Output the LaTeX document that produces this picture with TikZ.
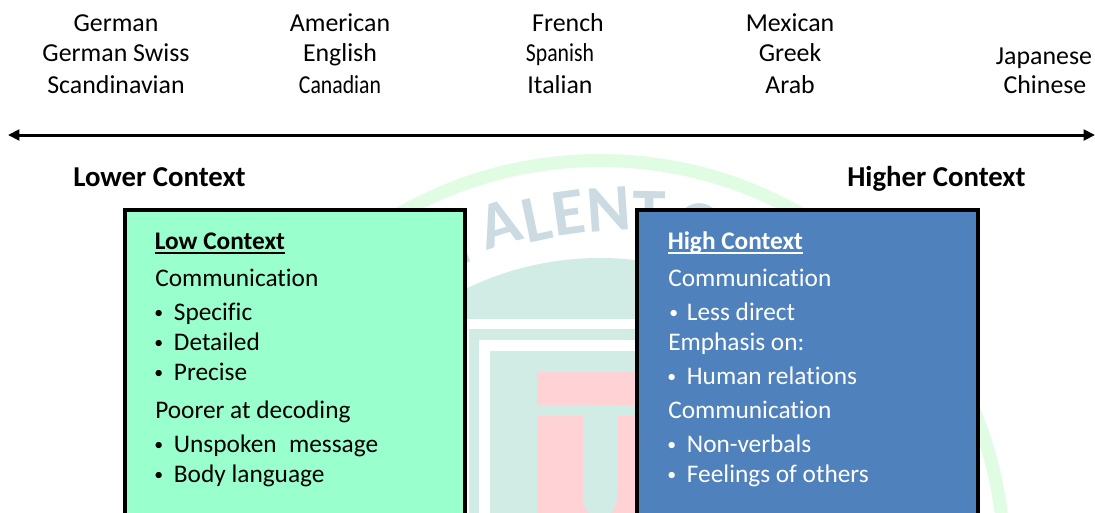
\documentclass[tikz,border=0pt]{standalone}
\usepackage{fontspec}
\setmainfont[Ligatures=NoCommon]{Carlito}
\usetikzlibrary{arrows.meta}
\definecolor{ringc}{HTML}{E0FCE3}
\definecolor{discc}{HTML}{D1EBE5}
\definecolor{redc}{HTML}{FFD3D5}
\definecolor{letc}{HTML}{CCDAE2}
\definecolor{greenbox}{HTML}{99FFCC}
\definecolor{bluebox}{HTML}{4F81BD}
\newcommand{\bul}[2][0pt]{\makebox[14pt][l]{\hspace{-0.7pt}\hspace{#1}\raisebox{1.4pt}{\scalebox{0.7}{•}}}#2}
\newcommand{\narrowed}[1]{\scalebox{0.84}[1]{#1}}
\tikzset{
  toptext/.style={anchor=base,inner sep=0pt,font=\fontsize{19.4}{19.4}\selectfont,text=black},
  sidehead/.style={anchor=base west,inner sep=0pt,font=\fontsize{21.6}{21.6}\selectfont\bfseries,text=black},
  headtext/.style={anchor=base west,inner sep=0pt,font=\fontsize{19}{19}\selectfont\bfseries,text=black},
  ltext/.style={anchor=base west,inner sep=0pt,font=\fontsize{19}{19}\selectfont,text=black},
  rtext/.style={anchor=base west,inner sep=0pt,font=\fontsize{19}{19}\selectfont,text=white},
  panel/.style={draw=black,line width=3pt},
  wm/.style={inner sep=0pt,text=letc,font=\fontsize{50}{50}\selectfont\bfseries},
}
\begin{document}
\begin{tikzpicture}[x=0.75pt,y=-0.75pt]
\clip (0,0) rectangle (1095,512);
\fill[white] (0,0) rectangle (1095,512);
% watermark
\fill[ringc,even odd rule] (600,565) circle (411) (600,565) circle (398);
\fill[discc] (600,565) circle (307);
\fill[white] (400,319) rectangle (800,600);
\fill[discc] (469,329) rectangle (731,600);
\fill[white] (479,340) rectangle (721,600);
\fill[discc] (490,351) rectangle (710,600);
\fill[redc] (537,372) rectangle (663,405);
\fill[redc] (537,416) rectangle (663,600);
\fill[discc] (583,416) -- (583,498) .. controls (585,525) and (615,525) .. (617,498) -- (617,416) -- cycle;
\node[wm,rotate=22] (w1) at (459,243) {T};
\node[wm,rotate=17] (w2) at (499,224) {A};
\node[wm,rotate=12] (w3) at (537,219) {L};
\node[wm,rotate=8] (w4) at (569,213) {E};
\node[wm,rotate=4] (w5) at (609,209) {N};
\node[wm,rotate=-1] (w6) at (649,213) {T};
\node[wm,rotate=-7] (w7) at (700,226) {O};
% arrow
\coordinate (al) at (8,135);
\coordinate (ar) at (1095,135);
\draw[line width=2.25pt,{Triangle[length=8.5pt,width=8pt]}-{Triangle[length=8.5pt,width=8pt]}] (al) -- (ar);
% top labels
\node[toptext] (g1) at (116,31) {German};
\node[toptext] (g2) at (116,61) {German Swiss};
\node[toptext] (g3) at (116,93) {Scandinavian};
\node[toptext] (a1) at (340,31) {American};
\node[toptext] (a2) at (340,61) {English};
\node[toptext] (a3) at (340,93) {\narrowed{Canadian}};
\node[toptext] (f1) at (568,31) {French};
\node[toptext] (f2) at (560,61) {\narrowed{Spanish}};
\node[toptext] (f3) at (560,93) {Italian};
\node[toptext] (m1) at (790,31) {Mexican};
\node[toptext] (m2) at (790,61) {Greek};
\node[toptext] (m3) at (790,93) {Arab};
\node[toptext] (j1) at (1044,64) {Japanese};
\node[toptext] (j2) at (1045,93) {Chinese};
\node[sidehead] (lc) at (73,186) {Lower Context};
\node[sidehead] (hc) at (847,186) {Higher Context};
% panels
\draw[panel,fill=greenbox] (124.5,210) rectangle (465,530);
\draw[panel,fill=bluebox] (637,210) rectangle (978,530);
% left text
\node[headtext] (l0) at (154.5,249) {Low Context};
\draw[line width=0.9pt] ([yshift=-3pt]l0.base west) -- ([yshift=-3pt]l0.base east);
\node[ltext] (l1) at (155,286) {Communication};
\node[ltext] (l2) at (155,320) {\bul{Specific}};
\node[ltext] (l3) at (155,350) {\bul{Detailed}};
\node[ltext] (l4) at (155,380) {\bul{Precise}};
\node[ltext] (l5) at (155,418) {Poorer at decoding};
\node[ltext] (l6) at (155,452) {\bul{Unspoken\hspace{5pt} message}};
\node[ltext] (l7) at (155,482) {\bul{Body language}};
% right text
\node[headtext,text=white] (r0) at (667.5,249) {High Context};
\draw[white,line width=1.5pt] ([yshift=-3pt]r0.base west) -- ([yshift=-3pt]r0.base east);
\node[rtext] (r1) at (668,286) {Communication};
\node[rtext] (r2) at (668,320) {\bul[1.5pt]{Less direct}};
\node[rtext] (r3) at (668,350) {Emphasis on:};
\node[rtext] (r4) at (668,384) {\bul{Human relations}};
\node[rtext] (r5) at (668,418) {Communication};
\node[rtext] (r6) at (668,452) {\bul{Non-verbals}};
\node[rtext] (r7) at (668,482) {\bul{Feelings of others}};
\end{tikzpicture}
\end{document}
